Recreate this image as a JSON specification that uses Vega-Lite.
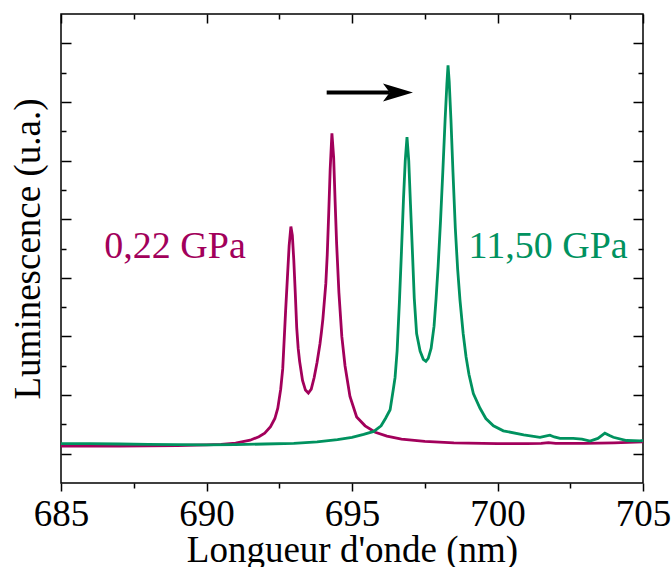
{
  "$schema": "https://vega.github.io/schema/vega-lite/v6.json",
  "width": 582,
  "height": 469,
  "autosize": "none",
  "padding": {"left": 61, "top": 14, "right": 29, "bottom": 84},
  "background": "white",
  "config": {
    "view": {"stroke": "black", "strokeWidth": 1.5},
    "font": "Liberation Serif",
    "axis": {
      "grid": false,
      "domain": false,
      "tickColor": "black",
      "tickWidth": 1.5,
      "labelFont": "Liberation Serif",
      "labelFontSize": 37,
      "labelColor": "black",
      "titleFont": "Liberation Serif",
      "titleFontSize": 37,
      "titleFontWeight": "normal",
      "titleColor": "black"
    }
  },
  "datasets": {
    "spectra": [
      {"series": "0,22 GPa", "wl": 685, "lum": 1.26},
      {"series": "0,22 GPa", "wl": 686, "lum": 1.26},
      {"series": "0,22 GPa", "wl": 687, "lum": 1.26},
      {"series": "0,22 GPa", "wl": 688, "lum": 1.27},
      {"series": "0,22 GPa", "wl": 689, "lum": 1.28},
      {"series": "0,22 GPa", "wl": 690, "lum": 1.30},
      {"series": "0,22 GPa", "wl": 690.5, "lum": 1.32},
      {"series": "0,22 GPa", "wl": 691, "lum": 1.36},
      {"series": "0,22 GPa", "wl": 691.5, "lum": 1.46},
      {"series": "0,22 GPa", "wl": 691.8, "lum": 1.58},
      {"series": "0,22 GPa", "wl": 692, "lum": 1.70},
      {"series": "0,22 GPa", "wl": 692.2, "lum": 1.92},
      {"series": "0,22 GPa", "wl": 692.35, "lum": 2.2},
      {"series": "0,22 GPa", "wl": 692.45, "lum": 2.55},
      {"series": "0,22 GPa", "wl": 692.55, "lum": 3.2},
      {"series": "0,22 GPa", "wl": 692.62, "lum": 3.9},
      {"series": "0,22 GPa", "wl": 692.67, "lum": 4.9},
      {"series": "0,22 GPa", "wl": 692.72, "lum": 5.9},
      {"series": "0,22 GPa", "wl": 692.78, "lum": 7.0},
      {"series": "0,22 GPa", "wl": 692.84, "lum": 8.1},
      {"series": "0,22 GPa", "wl": 692.9, "lum": 8.75},
      {"series": "0,22 GPa", "wl": 692.95, "lum": 8.45},
      {"series": "0,22 GPa", "wl": 693.0, "lum": 7.6},
      {"series": "0,22 GPa", "wl": 693.05, "lum": 6.5},
      {"series": "0,22 GPa", "wl": 693.1, "lum": 5.3},
      {"series": "0,22 GPa", "wl": 693.15, "lum": 4.6},
      {"series": "0,22 GPa", "wl": 693.2, "lum": 4.15},
      {"series": "0,22 GPa", "wl": 693.3, "lum": 3.5},
      {"series": "0,22 GPa", "wl": 693.4, "lum": 3.17},
      {"series": "0,22 GPa", "wl": 693.5, "lum": 3.07},
      {"series": "0,22 GPa", "wl": 693.6, "lum": 3.2},
      {"series": "0,22 GPa", "wl": 693.7, "lum": 3.6},
      {"series": "0,22 GPa", "wl": 693.8, "lum": 4.12},
      {"series": "0,22 GPa", "wl": 693.9, "lum": 4.75},
      {"series": "0,22 GPa", "wl": 693.95, "lum": 5.15},
      {"series": "0,22 GPa", "wl": 694.0, "lum": 5.6},
      {"series": "0,22 GPa", "wl": 694.1, "lum": 6.8},
      {"series": "0,22 GPa", "wl": 694.15, "lum": 7.8},
      {"series": "0,22 GPa", "wl": 694.2, "lum": 9.2},
      {"series": "0,22 GPa", "wl": 694.25, "lum": 10.7},
      {"series": "0,22 GPa", "wl": 694.31, "lum": 11.93},
      {"series": "0,22 GPa", "wl": 694.37, "lum": 11.1},
      {"series": "0,22 GPa", "wl": 694.42, "lum": 9.6},
      {"series": "0,22 GPa", "wl": 694.47, "lum": 8.2},
      {"series": "0,22 GPa", "wl": 694.55, "lum": 6.5},
      {"series": "0,22 GPa", "wl": 694.65, "lum": 5.0},
      {"series": "0,22 GPa", "wl": 694.76, "lum": 4.0},
      {"series": "0,22 GPa", "wl": 694.93, "lum": 2.95},
      {"series": "0,22 GPa", "wl": 695.16, "lum": 2.25},
      {"series": "0,22 GPa", "wl": 695.45, "lum": 1.95},
      {"series": "0,22 GPa", "wl": 695.8, "lum": 1.73},
      {"series": "0,22 GPa", "wl": 696.2, "lum": 1.6},
      {"series": "0,22 GPa", "wl": 696.7, "lum": 1.5},
      {"series": "0,22 GPa", "wl": 697.5, "lum": 1.42},
      {"series": "0,22 GPa", "wl": 698.5, "lum": 1.37},
      {"series": "0,22 GPa", "wl": 700, "lum": 1.34},
      {"series": "0,22 GPa", "wl": 701, "lum": 1.34},
      {"series": "0,22 GPa", "wl": 701.5, "lum": 1.35},
      {"series": "0,22 GPa", "wl": 701.75, "lum": 1.38},
      {"series": "0,22 GPa", "wl": 702, "lum": 1.35},
      {"series": "0,22 GPa", "wl": 703, "lum": 1.35},
      {"series": "0,22 GPa", "wl": 704, "lum": 1.37},
      {"series": "0,22 GPa", "wl": 705, "lum": 1.40},
      {"series": "11,50 GPa", "wl": 685, "lum": 1.34},
      {"series": "11,50 GPa", "wl": 686, "lum": 1.34},
      {"series": "11,50 GPa", "wl": 687, "lum": 1.33},
      {"series": "11,50 GPa", "wl": 688, "lum": 1.32},
      {"series": "11,50 GPa", "wl": 689, "lum": 1.31},
      {"series": "11,50 GPa", "wl": 690, "lum": 1.30},
      {"series": "11,50 GPa", "wl": 691, "lum": 1.31},
      {"series": "11,50 GPa", "wl": 692, "lum": 1.33},
      {"series": "11,50 GPa", "wl": 693, "lum": 1.35},
      {"series": "11,50 GPa", "wl": 693.8, "lum": 1.40},
      {"series": "11,50 GPa", "wl": 694.5, "lum": 1.48},
      {"series": "11,50 GPa", "wl": 695, "lum": 1.56},
      {"series": "11,50 GPa", "wl": 695.4, "lum": 1.66},
      {"series": "11,50 GPa", "wl": 695.75, "lum": 1.76},
      {"series": "11,50 GPa", "wl": 696.0, "lum": 1.95},
      {"series": "11,50 GPa", "wl": 696.15, "lum": 2.2},
      {"series": "11,50 GPa", "wl": 696.31, "lum": 2.5},
      {"series": "11,50 GPa", "wl": 696.42, "lum": 3.2},
      {"series": "11,50 GPa", "wl": 696.48, "lum": 3.6},
      {"series": "11,50 GPa", "wl": 696.55, "lum": 4.5},
      {"series": "11,50 GPa", "wl": 696.63, "lum": 6.2},
      {"series": "11,50 GPa", "wl": 696.7, "lum": 7.9},
      {"series": "11,50 GPa", "wl": 696.77, "lum": 9.7},
      {"series": "11,50 GPa", "wl": 696.83, "lum": 11.0},
      {"series": "11,50 GPa", "wl": 696.89, "lum": 11.8},
      {"series": "11,50 GPa", "wl": 696.95, "lum": 11.0},
      {"series": "11,50 GPa", "wl": 697.01, "lum": 9.5},
      {"series": "11,50 GPa", "wl": 697.08, "lum": 7.8},
      {"series": "11,50 GPa", "wl": 697.14, "lum": 6.3},
      {"series": "11,50 GPa", "wl": 697.22, "lum": 5.1},
      {"series": "11,50 GPa", "wl": 697.34, "lum": 4.5},
      {"series": "11,50 GPa", "wl": 697.45, "lum": 4.22},
      {"series": "11,50 GPa", "wl": 697.54, "lum": 4.15},
      {"series": "11,50 GPa", "wl": 697.62, "lum": 4.25},
      {"series": "11,50 GPa", "wl": 697.72, "lum": 4.6},
      {"series": "11,50 GPa", "wl": 697.82, "lum": 5.35},
      {"series": "11,50 GPa", "wl": 697.89, "lum": 6.3},
      {"series": "11,50 GPa", "wl": 697.96, "lum": 7.4},
      {"series": "11,50 GPa", "wl": 698.04, "lum": 8.9},
      {"series": "11,50 GPa", "wl": 698.12, "lum": 10.6},
      {"series": "11,50 GPa", "wl": 698.2, "lum": 12.4},
      {"series": "11,50 GPa", "wl": 698.26, "lum": 13.6},
      {"series": "11,50 GPa", "wl": 698.3, "lum": 14.25},
      {"series": "11,50 GPa", "wl": 698.34, "lum": 13.7},
      {"series": "11,50 GPa", "wl": 698.4, "lum": 12.4},
      {"series": "11,50 GPa", "wl": 698.47, "lum": 10.6},
      {"series": "11,50 GPa", "wl": 698.55, "lum": 8.7},
      {"series": "11,50 GPa", "wl": 698.63, "lum": 7.3},
      {"series": "11,50 GPa", "wl": 698.71, "lum": 6.25},
      {"series": "11,50 GPa", "wl": 698.82, "lum": 5.1},
      {"series": "11,50 GPa", "wl": 698.92, "lum": 4.3},
      {"series": "11,50 GPa", "wl": 699.02, "lum": 3.7},
      {"series": "11,50 GPa", "wl": 699.17, "lum": 3.05},
      {"series": "11,50 GPa", "wl": 699.4, "lum": 2.55},
      {"series": "11,50 GPa", "wl": 699.6, "lum": 2.2},
      {"series": "11,50 GPa", "wl": 699.86, "lum": 1.95},
      {"series": "11,50 GPa", "wl": 700.2, "lum": 1.78},
      {"series": "11,50 GPa", "wl": 700.9, "lum": 1.64},
      {"series": "11,50 GPa", "wl": 701.46, "lum": 1.56},
      {"series": "11,50 GPa", "wl": 701.65, "lum": 1.6},
      {"series": "11,50 GPa", "wl": 701.8, "lum": 1.63},
      {"series": "11,50 GPa", "wl": 701.95, "lum": 1.57},
      {"series": "11,50 GPa", "wl": 702.15, "lum": 1.52},
      {"series": "11,50 GPa", "wl": 702.6, "lum": 1.52},
      {"series": "11,50 GPa", "wl": 702.9, "lum": 1.5},
      {"series": "11,50 GPa", "wl": 703.18, "lum": 1.43},
      {"series": "11,50 GPa", "wl": 703.45, "lum": 1.52},
      {"series": "11,50 GPa", "wl": 703.69, "lum": 1.7},
      {"series": "11,50 GPa", "wl": 703.85, "lum": 1.62},
      {"series": "11,50 GPa", "wl": 703.98, "lum": 1.56},
      {"series": "11,50 GPa", "wl": 704.44, "lum": 1.45},
      {"series": "11,50 GPa", "wl": 704.9, "lum": 1.44},
      {"series": "11,50 GPa", "wl": 705, "lum": 1.45}
    ],
    "labels": [
      {"series": "0,22 GPa", "wl": 688.92, "lum": 7.68},
      {"series": "11,50 GPa", "wl": 701.74, "lum": 7.68}
    ],
    "arrow": [
      {"wl": 694.13, "wl2": 696.3, "lum": 13.32, "head": 696.58}
    ]
  },
  "resolve": {"axis": {"x": "independent", "y": "independent"}},
  "layer": [
    {
      "data": {"name": "spectra"},
      "mark": {"type": "line", "strokeWidth": 2.8, "clip": true},
      "encoding": {
        "x": {
          "field": "wl", "type": "quantitative",
          "scale": {"domain": [685, 705], "nice": false, "zero": false},
          "axis": {
            "orient": "bottom", "values": [685, 690, 695, 700, 705], "tickSize": 8,
            "labelPadding": 5, "labelFlush": false, "labelOverlap": false, "labelBound": false,
            "title": "Longueur d'onde (nm)", "titleBaseline": "alphabetic", "titleY": 78,
            "titleX": 291, "titleAnchor": "middle"
          }
        },
        "y": {
          "field": "lum", "type": "quantitative",
          "scale": {"domain": [0, 16], "nice": false, "zero": false},
          "axis": {
            "orient": "left", "values": [1, 3, 5, 7, 9, 11, 13, 15], "tickSize": -10,
            "labels": false, "title": "Luminescence (u.a.)", "titleAngle": -90,
            "titleBaseline": "alphabetic", "titleX": -22, "titleY": 234.5, "titleAlign": "center"
          }
        },
        "color": {
          "field": "series", "type": "nominal",
          "scale": {"domain": ["0,22 GPa", "11,50 GPa"], "range": ["#A2005B", "#00925F"]},
          "legend": null
        },
        "detail": {"field": "series"}
      }
    },
    {
      "data": {"name": "labels"},
      "mark": {"type": "text", "font": "Liberation Serif", "fontSize": 38, "align": "center", "baseline": "alphabetic"},
      "encoding": {
        "x": {
          "field": "wl", "type": "quantitative",
          "scale": {"domain": [685, 705], "nice": false, "zero": false},
          "axis": {"orient": "bottom", "values": [687.5, 692.5, 697.5, 702.5], "tickSize": 5, "labels": false, "title": null}
        },
        "y": {
          "field": "lum", "type": "quantitative",
          "scale": {"domain": [0, 16], "nice": false, "zero": false},
          "axis": {"orient": "left", "values": [2, 4, 6, 8, 10, 12, 14], "tickSize": -5, "labels": false, "title": null}
        },
        "text": {"field": "series"},
        "color": {"field": "series", "type": "nominal", "scale": {"domain": ["0,22 GPa", "11,50 GPa"], "range": ["#A2005B", "#00925F"]}, "legend": null}
      }
    },
    {
      "data": {"name": "arrow"},
      "mark": {"type": "rule", "strokeWidth": 4, "color": "black"},
      "encoding": {
        "x": {
          "field": "wl", "type": "quantitative",
          "scale": {"domain": [685, 705], "nice": false, "zero": false},
          "axis": {"orient": "top", "values": [685, 690, 695, 700, 705], "tickSize": -9, "labels": false, "title": null}
        },
        "x2": {"field": "wl2"},
        "y": {
          "field": "lum", "type": "quantitative",
          "scale": {"domain": [0, 16], "nice": false, "zero": false},
          "axis": {"orient": "right", "values": [1, 3, 5, 7, 9, 11, 13, 15], "tickSize": -10, "labels": false, "title": null}
        }
      }
    },
    {
      "data": {"name": "arrow"},
      "mark": {"type": "point", "shape": "M1,0 L-1,-0.6 L-0.55,0 L-1,0.6 Z", "size": 900, "filled": true, "color": "black", "opacity": 1, "strokeWidth": 0},
      "encoding": {
        "x": {
          "field": "head", "type": "quantitative",
          "scale": {"domain": [685, 705], "nice": false, "zero": false},
          "axis": {"orient": "top", "values": [687.5, 692.5, 697.5, 702.5], "tickSize": -5, "labels": false, "title": null}
        },
        "y": {
          "field": "lum", "type": "quantitative",
          "scale": {"domain": [0, 16], "nice": false, "zero": false},
          "axis": {"orient": "right", "values": [2, 4, 6, 8, 10, 12, 14], "tickSize": -5, "labels": false, "title": null}
        }
      }
    }
  ]
}
